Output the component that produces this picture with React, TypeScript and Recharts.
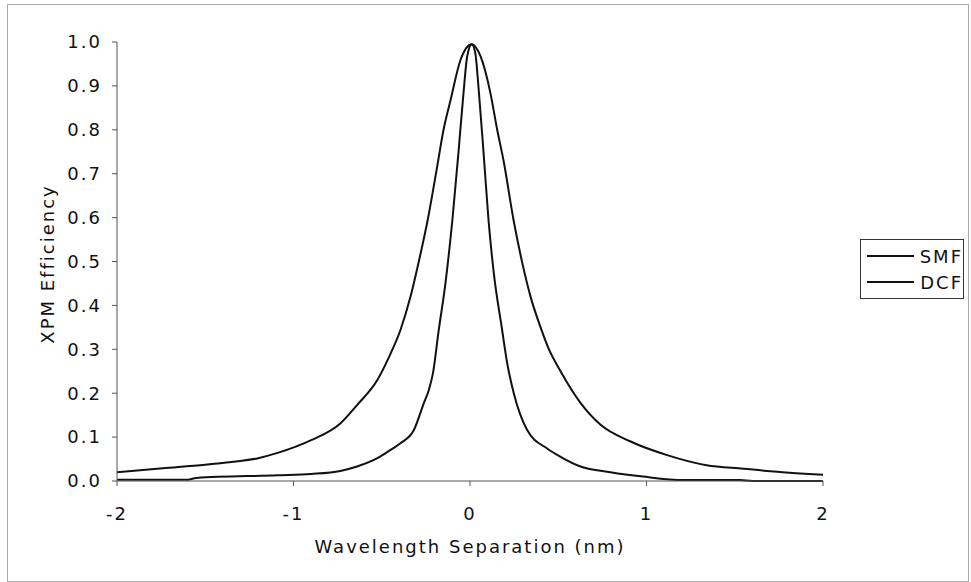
import { LineChart, Line, XAxis, YAxis, Legend, Label } from "recharts";

// wavelength separation (nm) and XPM efficiency
const smfSeparation = [
  -2.0, -1.74, -1.5, -1.38, -1.2, -1.09, -0.9, -0.735, -0.64, -0.525, -0.45, -0.394, -0.337,
  -0.29, -0.24, -0.186, -0.15, -0.11, -0.054, 0.01, 0.06, 0.116, 0.154, 0.19, 0.247, 0.3,
  0.343, 0.4, 0.445, 0.513, 0.626, 0.74, 0.91, 1.117, 1.34, 1.55, 1.74, 2.0,
];
const smfEfficiency = [
  0.02, 0.029, 0.037, 0.042, 0.052, 0.064, 0.093, 0.131, 0.173, 0.23, 0.29, 0.344, 0.42,
  0.5, 0.594, 0.716, 0.8, 0.868, 0.959, 0.995, 0.967, 0.883, 0.8, 0.73, 0.594, 0.49,
  0.42, 0.35, 0.302, 0.25, 0.178, 0.128, 0.09, 0.059, 0.036, 0.028, 0.021, 0.014,
];

const dcfSeparation = [
  -2.0, -1.6, -1.55, -1.09, -0.9, -0.735, -0.64, -0.525, -0.45, -0.394, -0.318, -0.262,
  -0.235, -0.21, -0.177, -0.139, -0.1, -0.065, -0.037, -0.016, 0.01, 0.03, 0.048, 0.077,
  0.105, 0.133, 0.182, 0.21, 0.248, 0.324, 0.437, 0.513, 0.626, 0.796, 0.98, 1.21, 1.53,
  1.6, 2.0,
];
const dcfEfficiency = [
  0.003, 0.003, 0.007, 0.013, 0.016, 0.023, 0.033, 0.052, 0.071, 0.086, 0.116, 0.177,
  0.205, 0.245, 0.344, 0.451, 0.594, 0.75, 0.883, 0.967, 0.995, 0.975, 0.898, 0.747,
  0.594, 0.48, 0.344, 0.27, 0.2, 0.116, 0.074, 0.055, 0.033, 0.02, 0.01, 0.002, 0.002,
  0.0, 0.0,
];

const seriesNames = ["SMF", "DCF"];
const xTicks = [-2, -1, 0, 1, 2];
const yTicks = [0, 0.1, 0.2, 0.3, 0.4, 0.5, 0.6, 0.7, 0.8, 0.9, 1.0];

const smfData = smfSeparation.map((sep, i) => ({ sep, eff: smfEfficiency[i] }));
const dcfData = dcfSeparation.map((sep, i) => ({ sep, eff: dcfEfficiency[i] }));

const FONT = "'DejaVu Sans', Verdana, sans-serif";
const tickStyle = { fill: "#111", fontSize: 18, fontFamily: FONT, letterSpacing: 2 };

function LegendBox({ payload }: any) {
  const items = [...(payload || [])].sort(
    (a: any, b: any) => seriesNames.indexOf(a.value) - seriesNames.indexOf(b.value)
  );
  return (
    <div
      style={{
        border: "1px solid #333",
        background: "#fff",
        padding: "3px 0",
        fontFamily: FONT,
        fontSize: 18,
        letterSpacing: 2,
        color: "#111",
      }}
    >
      {items.map((entry: any) => (
        <div key={entry.value} style={{ display: "flex", alignItems: "center", height: 26 }}>
          <svg width={53} height={4} style={{ marginLeft: 6 }}>
            <line x1={0} y1={2} x2={47} y2={2} stroke="#111" strokeWidth={2} />
          </svg>
          <span style={{ marginLeft: 4 }}>{entry.value}</span>
        </div>
      ))}
    </div>
  );
}

export default function App() {
  return (
    <div style={{ position: "absolute", left: 0, top: 0, width: 971, height: 582, background: "#fff" }}>
      <div
        style={{
          position: "absolute",
          left: 7,
          top: 4,
          width: 960,
          height: 576,
          border: "1px solid #aaa",
        }}
      />
      <LineChart
        width={971}
        height={582}
        margin={{ top: 42, right: 148, bottom: 21, left: 0 }}
        style={{ position: "absolute", left: 0, top: 0 }}
      >
        <XAxis
          dataKey="sep"
          type="number"
          domain={[-2, 2]}
          ticks={xTicks}
          height={80}
          tickSize={5}
          tickMargin={21}
          stroke="#555"
          tick={tickStyle}
          allowDuplicatedCategory={false}
        >
          <Label
            value="Wavelength Separation (nm)"
            position="insideBottom"
            offset={8}
            style={{ fill: "#111", fontSize: 18, fontFamily: FONT, letterSpacing: 2 }}
          />
        </XAxis>
        <YAxis
          type="number"
          domain={[0, 1]}
          ticks={yTicks}
          width={117}
          tickSize={5}
          tickMargin={10}
          stroke="#555"
          tick={tickStyle}
          tickFormatter={(v: number) => v.toFixed(1)}
        >
          <Label
            content={() => (
              <text
                x={47}
                y={264}
                transform="rotate(-90, 47, 264)"
                textAnchor="middle"
                dominantBaseline="central"
                fill="#111"
                fontSize={18}
                fontFamily={FONT}
                letterSpacing={2}
              >
                XPM Efficiency
              </text>
            )}
          />
        </YAxis>
        <Legend
          layout="vertical"
          align="center"
          verticalAlign="middle"
          content={<LegendBox />}
          wrapperStyle={{ left: 860, top: 239, width: 104 }}
        />
        <Line
          data={smfData}
          dataKey="eff"
          name="SMF"
          type="monotone"
          stroke="#111"
          strokeWidth={2}
          dot={false}
          isAnimationActive={false}
        />
        <Line
          data={dcfData}
          dataKey="eff"
          name="DCF"
          type="monotone"
          stroke="#111"
          strokeWidth={2}
          dot={false}
          isAnimationActive={false}
        />
      </LineChart>
    </div>
  );
}
